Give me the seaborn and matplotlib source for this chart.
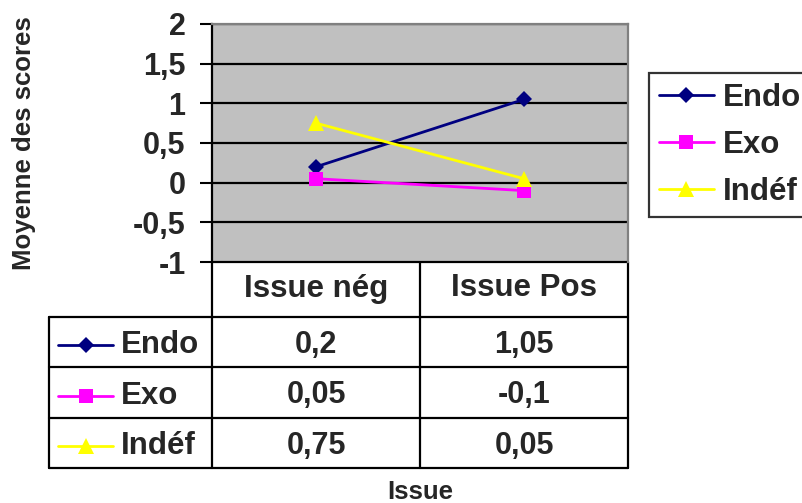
import pandas as pd
import seaborn as sns
import matplotlib.pyplot as plt

# data
issues = ['Issue nég', 'Issue Pos']
groupes = ['Endo', 'Exo', 'Indéf']
endo = [0.2, 1.05]
exo = [0.05, -0.1]
indef = [0.75, 0.05]
yticks = [-1, -0.5, 0, 0.5, 1, 1.5, 2]

couleurs = {'Endo': '#000080', 'Exo': '#FF00FF', 'Indéf': '#FFFF00'}
marqueurs = {'Endo': 'D', 'Exo': 's', 'Indéf': '^'}
tailles = {'Endo': 8, 'Exo': 10, 'Indéf': 11}

df = pd.DataFrame({
    'Issue': issues * 3,
    'Groupe': [g for g in groupes for _ in issues],
    'Score': endo + exo + indef,
})

sns.set_style('white')
plt.rcParams['font.family'] = ['Liberation Sans', 'DejaVu Sans']
plt.rcParams['font.weight'] = 'bold'
plt.rcParams['axes.unicode_minus'] = False


def fr(v):
    return ('%g' % v).replace('.', ',')


W, H = 802, 503
fig = plt.figure(figsize=(W / 100, H / 100), dpi=100)

# table layer in pixel units
tax = fig.add_axes([0, 0, 1, 1])
tax.set_xlim(0, W)
tax.set_ylim(H, 0)
tax.axis('off')

x_left, x_plot, x_mid, x_right = 49, 212, 420, 628
y_top, y_head, rows_y = 262, 317, [367, 418, 468]

ax = fig.add_axes([x_plot / W, 1 - y_top / H, (x_right - x_plot) / W, (y_top - 24) / H])
ax.set_facecolor('#C0C0C0')

sns.lineplot(data=df, x='Issue', y='Score', hue='Groupe', style='Groupe',
             palette=couleurs, markers=marqueurs, dashes=False, sort=False,
             linewidth=2, markeredgewidth=0, ax=ax, legend=True)

# taille des marqueurs par groupe
for ln, g in zip(ax.lines[:3], groupes):
    ln.set_markersize(tailles[g])

ax.set_xlim(-0.5, 1.5)
ax.set_ylim(-1, 2)
ax.set_yticks(yticks)
ax.set_yticklabels([fr(t) for t in yticks], fontsize=22, fontweight='bold')
ax.set_xticks([])
ax.set_xlabel('')
ax.set_ylabel('')
ax.yaxis.grid(True, color='black', linewidth=1.6)
ax.set_axisbelow(True)
ax.tick_params(axis='y', direction='out', length=9, width=1.5, color='black', pad=10, left=True)
ax.spines['left'].set_color('black')
ax.spines['left'].set_linewidth(1.6)
for s in ['top', 'right']:
    ax.spines[s].set_color('#808080')
    ax.spines[s].set_linewidth(1.6)
ax.spines['bottom'].set_visible(False)

handles, labels = ax.get_legend_handles_labels()
for h, lab in zip(handles, labels):
    h.set_markersize(tailles[lab])
leg = ax.legend(handles, labels, loc='upper left', bbox_to_anchor=(649 / W, 1 - 73 / H),
                bbox_transform=fig.transFigure, borderaxespad=0, frameon=True, fancybox=False,
                prop={'size': 22.5, 'weight': 'bold'}, handlelength=1.75, handletextpad=0.3,
                labelspacing=0.55, borderpad=0.32)
leg.get_frame().set_edgecolor('black')
leg.get_frame().set_linewidth(1.6)

fig.text(24 / W, 1 - 143 / H, 'Moyenne des scores', rotation=90, ha='center', va='center',
         fontsize=18.5, fontweight='bold')
fig.text((x_plot + x_right) / 2 / W, 1 - 492 / H, 'Issue', ha='center', va='center',
         fontsize=18.5, fontweight='bold')

# table grid
lw = 1.6
tax.plot([x_plot, x_right], [y_top, y_top], color='black', lw=lw)
for y in [y_head] + rows_y:
    tax.plot([x_left, x_right], [y, y], color='black', lw=lw)
tax.plot([x_left, x_left], [y_head, rows_y[-1]], color='black', lw=lw)
for x in [x_plot, x_mid, x_right]:
    tax.plot([x, x], [y_top, rows_y[-1]], color='black', lw=lw)

centres = [(x_plot + x_mid) / 2, (x_mid + x_right) / 2]
for c, issue in zip(centres, issues):
    tax.text(c, (y_top + y_head) / 2 - 1, issue, ha='center', va='center', fontsize=22.5, fontweight='bold')

bornes = [y_head] + rows_y
for i, (g, vals) in enumerate(zip(groupes, [endo, exo, indef])):
    yc = (bornes[i] + bornes[i + 1]) / 2
    tax.plot([58, 113], [yc + 3, yc + 3], color=couleurs[g], lw=2)
    tax.plot([85.5], [yc + 3], marker=marqueurs[g], color=couleurs[g], markersize=tailles[g], markeredgewidth=0)
    tax.text(121, yc + 3, g, ha='left', va='center', fontsize=22.5, fontweight='bold')
    for c, v in zip(centres, vals):
        tax.text(c, yc + 3, fr(v), ha='center', va='center', fontsize=22, fontweight='bold')

fig.savefig('out.png', dpi=100)
